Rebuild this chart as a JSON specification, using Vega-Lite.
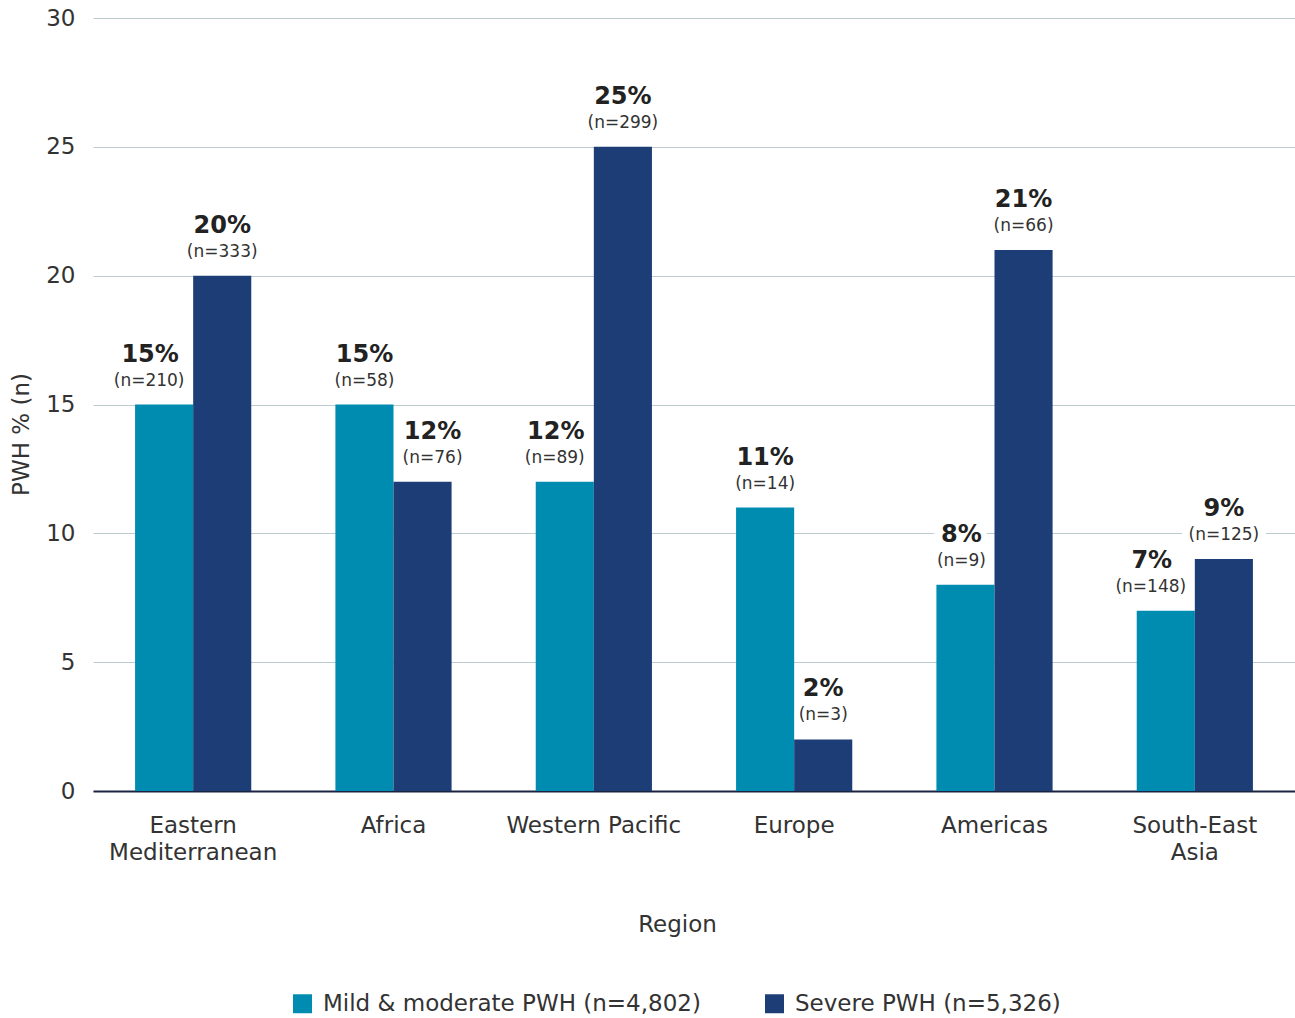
{
  "$schema": "https://vega.github.io/schema/vega-lite/v6.json",
  "width": 1202,
  "height": 773,
  "autosize": {"type": "none"},
  "padding": {"left": 93, "top": 18, "right": 0, "bottom": 227},
  "background": "white",
  "config": {
    "font": "DejaVu Sans",
    "view": {"stroke": null},
    "axis": {"labelFont": "DejaVu Sans", "titleFont": "DejaVu Sans"}
  },
  "data": {
    "values": [
      {"region": "Eastern Mediterranean", "group": "Mild & moderate PWH (n=4,802)", "pct": 15, "pctLabel": "15%", "nLabel": "(n=210)"},
      {"region": "Eastern Mediterranean", "group": "Severe PWH (n=5,326)", "pct": 20, "pctLabel": "20%", "nLabel": "(n=333)"},
      {"region": "Africa", "group": "Mild & moderate PWH (n=4,802)", "pct": 15, "pctLabel": "15%", "nLabel": "(n=58)"},
      {"region": "Africa", "group": "Severe PWH (n=5,326)", "pct": 12, "pctLabel": "12%", "nLabel": "(n=76)"},
      {"region": "Western Pacific", "group": "Mild & moderate PWH (n=4,802)", "pct": 12, "pctLabel": "12%", "nLabel": "(n=89)"},
      {"region": "Western Pacific", "group": "Severe PWH (n=5,326)", "pct": 25, "pctLabel": "25%", "nLabel": "(n=299)"},
      {"region": "Europe", "group": "Mild & moderate PWH (n=4,802)", "pct": 11, "pctLabel": "11%", "nLabel": "(n=14)"},
      {"region": "Europe", "group": "Severe PWH (n=5,326)", "pct": 2, "pctLabel": "2%", "nLabel": "(n=3)"},
      {"region": "Americas", "group": "Mild & moderate PWH (n=4,802)", "pct": 8, "pctLabel": "8%", "nLabel": "(n=9)"},
      {"region": "Americas", "group": "Severe PWH (n=5,326)", "pct": 21, "pctLabel": "21%", "nLabel": "(n=66)"},
      {"region": "South-East Asia", "group": "Mild & moderate PWH (n=4,802)", "pct": 7, "pctLabel": "7%", "nLabel": "(n=148)"},
      {"region": "South-East Asia", "group": "Severe PWH (n=5,326)", "pct": 9, "pctLabel": "9%", "nLabel": "(n=125)"}
    ]
  },
  "encoding": {
    "x": {
      "field": "region",
      "type": "nominal",
      "sort": ["Eastern Mediterranean", "Africa", "Western Pacific", "Europe", "Americas", "South-East Asia"],
      "scale": {"paddingInner": 0.42, "paddingOuter": 0.21},
      "axis": {
        "title": "Region",
        "titleFontSize": 23,
        "titleFontWeight": "normal",
        "titleColor": "#333333",
        "titlePadding": 49,
        "titleX": 584,
        "labelAngle": 0,
        "labelFontSize": 23,
        "labelColor": "#333333",
        "labelPadding": 34,
        "labelLineHeight": 27,
        "labelBaseline": "middle",
        "labelExpr": "datum.label == 'Eastern Mediterranean' ? ['Eastern', 'Mediterranean'] : datum.label == 'South-East Asia' ? ['South-East', 'Asia'] : datum.label",
        "ticks": false,
        "domainColor": "#1a2340",
        "domainWidth": 2,
        "grid": false
      }
    },
    "xOffset": {
      "field": "group",
      "type": "nominal",
      "sort": ["Mild & moderate PWH (n=4,802)", "Severe PWH (n=5,326)"],
      "scale": {"paddingInner": 0, "paddingOuter": 0}
    },
    "y": {
      "field": "pct",
      "type": "quantitative",
      "scale": {"domain": [0, 30], "nice": false},
      "axis": {
        "title": "PWH % (n)",
        "titleFontSize": 23,
        "titleFontWeight": "normal",
        "titleColor": "#333333",
        "titlePadding": 12,
        "titleY": 416,
        "values": [0, 5, 10, 15, 20, 25, 30],
        "labelFontSize": 23,
        "labelColor": "#333333",
        "labelPadding": 18,
        "ticks": false,
        "domain": false,
        "gridColor": "#bccbd1",
        "gridWidth": 1.2
      }
    }
  },
  "layer": [
    {
      "transform": [{"filter": "datum.group == 'Mild & moderate PWH (n=4,802)' && datum.region == 'Americas'"}],
      "layer": [
        {"mark": {"type": "text", "baseline": "middle", "dy": -24, "dx": -4, "fontSize": 17, "color": "white", "stroke": "white", "strokeWidth": 16}, "encoding": {"text": {"field": "nLabel"}}},
        {"mark": {"type": "text", "baseline": "middle", "dy": -50, "dx": -4, "fontSize": 24, "fontWeight": "bold", "color": "white", "stroke": "white", "strokeWidth": 12}, "encoding": {"text": {"field": "pctLabel"}}}
      ]
    },
    {
      "transform": [{"filter": "datum.group == 'Severe PWH (n=5,326)' && datum.region != 'Africa'"}],
      "layer": [
        {"mark": {"type": "text", "baseline": "middle", "dy": -24, "fontSize": 17, "color": "white", "stroke": "white", "strokeWidth": 16}, "encoding": {"text": {"field": "nLabel"}}},
        {"mark": {"type": "text", "baseline": "middle", "dy": -50, "fontSize": 24, "fontWeight": "bold", "color": "white", "stroke": "white", "strokeWidth": 12}, "encoding": {"text": {"field": "pctLabel"}}}
      ]
    },
    {
      "mark": {"type": "bar"},
      "encoding": {
        "color": {
          "field": "group",
          "type": "nominal",
          "sort": ["Mild & moderate PWH (n=4,802)", "Severe PWH (n=5,326)"],
          "scale": {"range": ["#008cb0", "#1c3d75"]},
          "legend": {
            "title": null,
            "orient": "none",
            "direction": "horizontal",
            "legendX": 198,
            "legendY": 974,
            "symbolType": "square",
            "symbolSize": 360,
            "symbolStrokeWidth": 0,
            "labelFontSize": 23,
            "labelColor": "#333333",
            "labelFont": "DejaVu Sans",
            "labelLimit": 0,
            "columnPadding": 62,
            "labelOffset": 9
          }
        }
      }
    },
    {
      "transform": [{"filter": "(datum.group == 'Severe PWH (n=5,326)' && datum.region != 'Africa') || (datum.group == 'Mild & moderate PWH (n=4,802)' && (datum.region == 'Africa' || datum.region == 'Europe'))"}],
      "layer": [
        {"mark": {"type": "text", "baseline": "middle", "dy": -24, "fontSize": 17, "color": "#333333"}, "encoding": {"text": {"field": "nLabel"}}},
        {"mark": {"type": "text", "baseline": "middle", "dy": -50, "fontSize": 24, "fontWeight": "bold", "color": "#222222"}, "encoding": {"text": {"field": "pctLabel"}}}
      ]
    },
    {
      "transform": [{"filter": "datum.group == 'Mild & moderate PWH (n=4,802)' && (datum.region == 'Eastern Mediterranean' || datum.region == 'South-East Asia')"}],
      "layer": [
        {"mark": {"type": "text", "baseline": "middle", "dy": -24, "dx": -15, "fontSize": 17, "color": "#333333"}, "encoding": {"text": {"field": "nLabel"}}},
        {"mark": {"type": "text", "baseline": "middle", "dy": -50, "dx": -14, "fontSize": 24, "fontWeight": "bold", "color": "#222222"}, "encoding": {"text": {"field": "pctLabel"}}}
      ]
    },
    {
      "transform": [{"filter": "datum.group == 'Mild & moderate PWH (n=4,802)' && datum.region == 'Western Pacific'"}],
      "layer": [
        {"mark": {"type": "text", "baseline": "middle", "dy": -24, "dx": -10, "fontSize": 17, "color": "#333333"}, "encoding": {"text": {"field": "nLabel"}}},
        {"mark": {"type": "text", "baseline": "middle", "dy": -50, "dx": -9, "fontSize": 24, "fontWeight": "bold", "color": "#222222"}, "encoding": {"text": {"field": "pctLabel"}}}
      ]
    },
    {
      "transform": [{"filter": "datum.group == 'Mild & moderate PWH (n=4,802)' && datum.region == 'Americas'"}],
      "layer": [
        {"mark": {"type": "text", "baseline": "middle", "dy": -24, "dx": -4, "fontSize": 17, "color": "#333333"}, "encoding": {"text": {"field": "nLabel"}}},
        {"mark": {"type": "text", "baseline": "middle", "dy": -50, "dx": -4, "fontSize": 24, "fontWeight": "bold", "color": "#222222"}, "encoding": {"text": {"field": "pctLabel"}}}
      ]
    },
    {
      "transform": [{"filter": "datum.group == 'Severe PWH (n=5,326)' && datum.region == 'Africa'"}],
      "layer": [
        {"mark": {"type": "text", "baseline": "middle", "dy": -24, "dx": 10, "fontSize": 17, "color": "#333333"}, "encoding": {"text": {"field": "nLabel"}}},
        {"mark": {"type": "text", "baseline": "middle", "dy": -50, "dx": 10, "fontSize": 24, "fontWeight": "bold", "color": "#222222"}, "encoding": {"text": {"field": "pctLabel"}}}
      ]
    }
  ]
}
